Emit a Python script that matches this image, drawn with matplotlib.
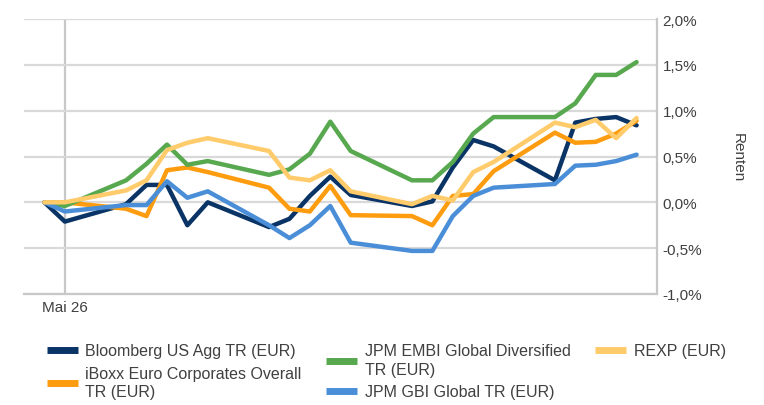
import matplotlib
matplotlib.use("Agg")
import matplotlib.pyplot as plt
import pandas as pd

plt.rcParams['font.family'] = ['Liberation Sans', 'DejaVu Sans']

dates = ["2017-05-25", "2017-05-26", "2017-05-29", "2017-05-30", "2017-05-31",
         "2017-06-01", "2017-06-02", "2017-06-05", "2017-06-06", "2017-06-07",
         "2017-06-08", "2017-06-09", "2017-06-12", "2017-06-13", "2017-06-14",
         "2017-06-15", "2017-06-16", "2017-06-19", "2017-06-20", "2017-06-21",
         "2017-06-22", "2017-06-23"]

bloomberg = [0, -0.21, -0.02, 0.19, 0.19, -0.25, 0.0, -0.27, -0.18, 0.07, 0.28,
             0.08, -0.04, 0.01, 0.38, 0.68, 0.61, 0.24, 0.87, 0.91, 0.93, 0.84]
iboxx = [0, 0.0, -0.07, -0.15, 0.35, 0.38, 0.33, 0.16, -0.07, -0.10, 0.18,
         -0.14, -0.15, -0.25, 0.07, 0.09, 0.34, 0.76, 0.65, 0.66, 0.75, 0.89]
embi = [0, -0.04, 0.24, 0.42, 0.63, 0.41, 0.45, 0.30, 0.36, 0.53, 0.88,
        0.56, 0.24, 0.24, 0.44, 0.75, 0.93, 0.93, 1.08, 1.39, 1.39, 1.53]
gbi = [0, -0.10, -0.03, -0.03, 0.23, 0.05, 0.12, -0.25, -0.39, -0.25, -0.04,
       -0.44, -0.53, -0.53, -0.15, 0.07, 0.16, 0.20, 0.40, 0.41, 0.45, 0.52]
rexp = [0, 0.0, 0.13, 0.24, 0.57, 0.65, 0.70, 0.56, 0.27, 0.24, 0.35,
        0.12, -0.02, 0.07, 0.02, 0.33, 0.44, 0.87, 0.82, 0.90, 0.70, 0.92]

labels = ["Bloomberg US Agg TR (EUR)", "iBoxx Euro Corporates Overall\nTR (EUR)",
          "JPM EMBI Global Diversified\nTR (EUR)", "JPM GBI Global TR (EUR)",
          "REXP (EUR)"]
colors = ["#0a3466", "#fd9c0e", "#57a84e", "#4b8ed8", "#ffcb6b"]

y_ticks = [-1.0, -0.5, 0.0, 0.5, 1.0, 1.5, 2.0]
x_tick_dates = ["2017-05-26"]
x_tick_labels = ["Mai 26"]

x = pd.to_datetime(dates)
series = [bloomberg, iboxx, embi, gbi, rexp]

fs = 11
lfs = 11.5
fig = plt.figure(figsize=(7.64, 4.06), dpi=100)
ax = fig.add_axes([24/764, 1 - 295/406, (657-24)/764, (295-20)/406])

txt = "#404040"
for vals, lab, col in zip(series, labels, colors):
    ax.plot(x, vals, color=col, lw=3.2, label=lab,
            solid_capstyle='round', solid_joinstyle='round')

ax.set_xlim(pd.Timestamp("2017-05-24"), pd.Timestamp("2017-06-24"))
ax.set_ylim(-1.0, 2.0)
ax.set_yticks(y_ticks)
ax.set_yticklabels([f"{v:.1f}".replace(".", ",") + "%" for v in y_ticks])
ax.yaxis.tick_right()
ax.set_xticks(pd.to_datetime(x_tick_dates))
ax.set_xticklabels(x_tick_labels)
ax.tick_params(axis='both', length=0, labelsize=fs, colors=txt)
ax.tick_params(axis='y', pad=4)
ax.tick_params(axis='x', pad=4)

ax.grid(axis='y', color='#d9d9d9', lw=1.6)
ax.grid(axis='x', color='#c8c8c8', lw=1.6)
ax.set_axisbelow(True)

for s in ['left', 'top']:
    ax.spines[s].set_visible(False)
for s in ['right', 'bottom']:
    ax.spines[s].set_color('#c8c8c8')
    ax.spines[s].set_linewidth(1.6)

ax.yaxis.set_label_position('right')
ax.set_ylabel("Renten", rotation=270, fontsize=fs, color=txt, va='center')
ax.yaxis.set_label_coords((738-24)/633, 0.5)

leg = fig.legend(loc='upper left', bbox_to_anchor=(47/764, 1 - 344.5/406), ncol=3,
                 frameon=False, fontsize=lfs, handlelength=1.95, handletextpad=0.45,
                 columnspacing=1.55, labelspacing=0.45, borderaxespad=0, borderpad=0)
leg._legend_handle_box.align = "top"
for t in leg.get_texts():
    t.set_color(txt)
    t.set_linespacing(1.3)
for h in leg.get_lines():
    h.set_linewidth(5)
    h.set_solid_capstyle('butt')

fig.savefig("out.png", dpi=100, facecolor='white')
